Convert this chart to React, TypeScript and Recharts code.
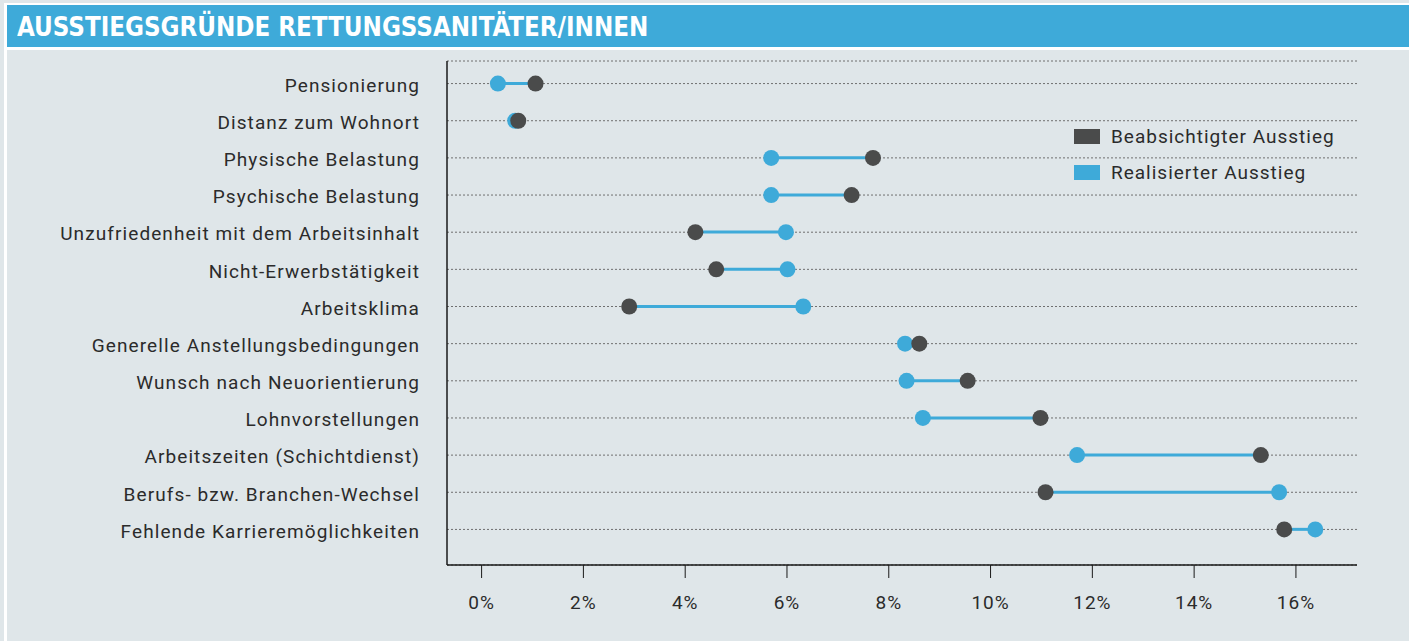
import { ComposedChart, Bar, Line, XAxis, YAxis, CartesianGrid } from "recharts";

const BG = "#dfe6e9";
const BLUE = "#3eaad9";
const DARK = "#4a4b4b";
const TEXT = "#2b2b2b";

const CATEGORIES = [
  "Pensionierung",
  "Distanz zum Wohnort",
  "Physische Belastung",
  "Psychische Belastung",
  "Unzufriedenheit mit dem Arbeitsinhalt",
  "Nicht-Erwerbstätigkeit",
  "Arbeitsklima",
  "Generelle Anstellungsbedingungen",
  "Wunsch nach Neuorientierung",
  "Lohnvorstellungen",
  "Arbeitszeiten (Schichtdienst)",
  "Berufs- bzw. Branchen-Wechsel",
  "Fehlende Karrieremöglichkeiten",
];

// Beabsichtigter Ausstieg (%)
const PLANNED = [1.06, 0.72, 7.69, 7.27, 4.2, 4.61, 2.9, 8.6, 9.55, 10.98, 15.31, 11.08, 15.77];
// Realisierter Ausstieg (%)
const REALIZED = [0.32, 0.66, 5.69, 5.69, 5.98, 6.01, 6.32, 8.32, 8.35, 8.67, 11.7, 15.67, 16.38];

const X_TICKS = [0, 2, 4, 6, 8, 10, 12, 14, 16];

const LEGEND = [
  { name: "Beabsichtigter Ausstieg", color: DARK },
  { name: "Realisierter Ausstieg", color: BLUE },
];

const TITLE = "AUSSTIEGSGRÜNDE RETTUNGSSANITÄTER/INNEN";

export default function App() {
  const data = CATEGORIES.map((name, i) => ({
    name,
    planned: PLANNED[i],
    realized: REALIZED[i],
    range: [Math.min(PLANNED[i], REALIZED[i]), Math.max(PLANNED[i], REALIZED[i])],
  }));

  return (
    <div
      style={{
        position: "relative",
        width: 1409,
        height: 641,
        background: BG,
        overflow: "hidden",
        fontFamily: "Roboto, sans-serif",
      }}
    >
      <style>{`body{margin:0}`}</style>
      <div style={{ position: "absolute", left: 4, top: 3, right: 0, bottom: 0, background: "#fff" }} />
      <div style={{ position: "absolute", left: 7, top: 5, right: 0, height: 42, background: BLUE }} />
      <div style={{ position: "absolute", left: 7, top: 50, right: 0, bottom: 0, background: BG }} />
      <div
        style={{
          position: "absolute",
          left: 17,
          top: 5,
          height: 42,
          display: "flex",
          alignItems: "center",
          color: "#fff",
          fontFamily: "'DejaVu Sans Condensed', 'DejaVu Sans', sans-serif",
          fontWeight: 700,
          fontSize: 27,
          whiteSpace: "nowrap",
          transform: "scaleX(0.95)",
          transformOrigin: "left center",
        }}
      >
        {TITLE}
      </div>

      <ComposedChart
        width={1409}
        height={641}
        data={data}
        layout="vertical"
        margin={{ top: 61, right: 52, bottom: 16, left: 0 }}
        style={{ position: "absolute", left: 0, top: 0 }}
      >
        <CartesianGrid horizontal vertical={false} stroke="#6f6f6f" strokeDasharray="2 2" />
        <XAxis
          type="number"
          domain={[-0.68, 17.2]}
          ticks={X_TICKS}
          allowDataOverflow
          tickFormatter={(v) => `${v}%`}
          axisLine={{ stroke: "#1a1a1a", strokeWidth: 1.5 }}
          tickLine={{ stroke: "#1a1a1a" }}
          tickSize={13}
          tickMargin={18}
          height={60}
          tick={{ fontSize: 19, fill: TEXT, letterSpacing: 1 }}
        />
        <YAxis
          type="category"
          dataKey="name"
          width={447}
          interval={0}
          tickLine={false}
          tickSize={0}
          tickMargin={27}
          padding={{ top: 4, bottom: 17 }}
          axisLine={{ stroke: "#1a1a1a", strokeWidth: 1.5 }}
          tick={{ fontSize: 19, fill: TEXT, letterSpacing: 1.1, dy: 1.5 }}
        />
        <Bar dataKey="range" fill={BLUE} barSize={3} isAnimationActive={false} />
        <Line
          dataKey="realized"
          stroke="none"
          dot={{ r: 8, fill: BLUE, stroke: "none", strokeWidth: 0 }}
          activeDot={false}
          isAnimationActive={false}
        />
        <Line
          dataKey="planned"
          stroke="none"
          dot={{ r: 8, fill: DARK, stroke: "none", strokeWidth: 0 }}
          activeDot={false}
          isAnimationActive={false}
        />
      </ComposedChart>

      <div style={{ position: "absolute", left: 1074, top: 118 }}>
        {LEGEND.map((item) => (
          <div key={item.name} style={{ display: "flex", alignItems: "center", height: 36 }}>
            <div style={{ width: 26, height: 15, background: item.color, marginRight: 11 }} />
            <span style={{ fontSize: 19, color: TEXT, letterSpacing: 1 }}>{item.name}</span>
          </div>
        ))}
      </div>
    </div>
  );
}
